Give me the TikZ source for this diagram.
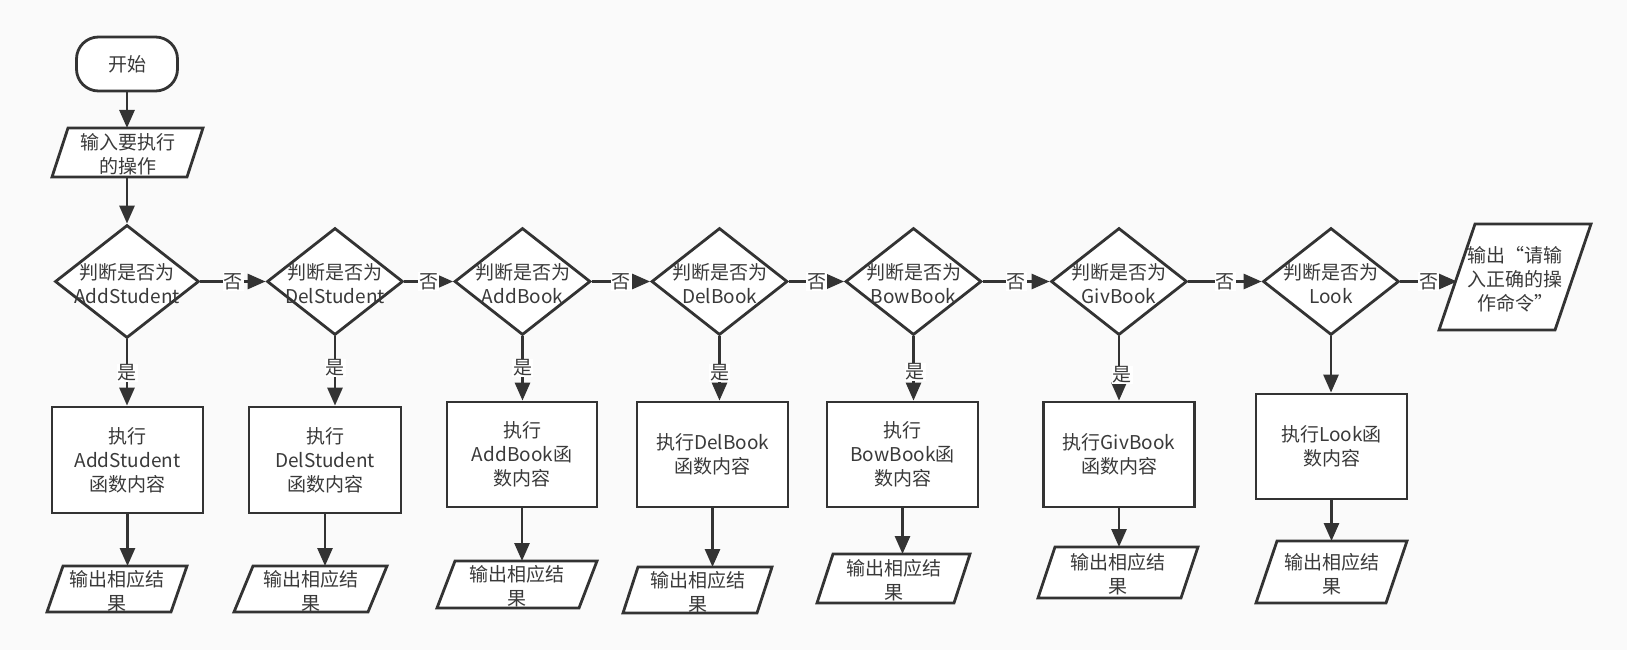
\documentclass[tikz,border=0pt]{standalone}
\usepackage{fontspec}
\setmainfont{Noto Sans CJK SC}
\usetikzlibrary{arrows.meta,shapes.geometric}
\definecolor{linec}{HTML}{333333}
\definecolor{txtc}{HTML}{3A3A3A}
\definecolor{bgc}{HTML}{FAFAFA}
% parallelogram: #1 name, #2 cx, #3 cy, #4 side, #5 skew, #6 height, #7 text
\newcommand\paragram[7]{%
  \draw[shp] ({#2-(#4+#5)/2},{#3+#6/2}) -- ++(#4,0) -- ({#2+(#4+#5)/2},{#3-#6/2}) -- ++(-#4,0) -- cycle;
  \coordinate (#1top) at (#2,{#3-#6/2});
  \coordinate (#1bot) at (#2,{#3+#6/2});
  \coordinate (#1left) at ({#2-#4/2},#3);
  \node[txt] (#1) at (#2,{#3+2}) {#7};
}
\begin{document}
\begin{tikzpicture}[x=1pt,y=-1pt,
  shp/.style={draw=linec, line width=2.8pt, fill=white},
  txt/.style={align=center, text=txtc, font=\fontsize{19pt}{24pt}\selectfont, inner sep=0pt},
  dia/.style={shp, shape=diamond, inner sep=0pt, minimum width=136pt, minimum height=107pt},
  proc/.style={shp, txt, minimum width=151pt, minimum height=105pt},
  arr/.style={draw=linec, line width=2.8pt, -{Triangle[length=18pt,width=15pt]}},
  lab/.style={fill=white, inner sep=1pt, text=txtc, font=\fontsize{19pt}{24pt}\selectfont}]
\fill[bgc] (0,0) rectangle (1627,650);
\useasboundingbox (0,0) rectangle (1627,650);

% start and input
\node[shp, txt, rounded corners=22pt, minimum width=101pt, minimum height=54pt] (start) at (127,64) {开始};
\paragram{inp}{127.5}{152.5}{135}{16}{49}{输入要执行\\的操作}

% diamonds
\node[dia, minimum width=144pt, minimum height=113pt] (d1) at (127,281.5) {};
\node[dia] (d2) at (335,281.5) {};
\node[dia] (d3) at (522.5,281.5) {};
\node[dia] (d4) at (719.5,281.5) {};
\node[dia] (d5) at (913.5,281.5) {};
\node[dia] (d6) at (1119,281.5) {};
\node[dia] (d7) at (1331,281.5) {};
\node[txt] (t1) at (127,284) {判断是否为\\AddStudent};
\node[txt] (t2) at (335,284) {判断是否为\\DelStudent};
\node[txt] (t3) at (522.5,284) {判断是否为\\AddBook};
\node[txt] (t4) at (719.5,284) {判断是否为\\DelBook};
\node[txt] (t5) at (913.5,284) {判断是否为\\BowBook};
\node[txt] (t6) at (1119,284) {判断是否为\\GivBook};
\node[txt] (t7) at (1331,284) {判断是否为\\Look};

% final output
\paragram{fo}{1515}{277}{116}{36}{106}{输出“请输\\入正确的操\\作命令”}

% process boxes
\node[proc, minimum height=106pt] (p1) at (127.5,460) {执行\\AddStudent\\函数内容};
\node[proc, minimum height=106pt, minimum width=152pt] (p2) at (325,460) {执行\\DelStudent\\函数内容};
\node[proc, minimum width=150pt] (p3) at (522,454.5) {执行\\AddBook函\\数内容};
\node[proc] (p4) at (712.5,454.5) {执行DelBook\\函数内容};
\node[proc] (p5) at (902.5,454.5) {执行\\BowBook函\\数内容};
\node[proc] (p6) at (1119,454.5) {执行GivBook\\函数内容};
\node[proc] (p7) at (1331.5,446.5) {执行Look函\\数内容};

% outputs
\paragram{oa}{117}{589}{124}{16}{46}{输出相应结\\果}
\paragram{ob}{310.5}{589}{134}{19}{46}{输出相应结\\果}
\paragram{oc}{517}{584.5}{142}{18}{47}{输出相应结\\果}
\paragram{od}{697.5}{590}{134}{15}{46}{输出相应结\\果}
\paragram{oe}{893.5}{578.5}{137}{16}{49}{输出相应结\\果}
\paragram{of}{1118}{572.5}{143}{17}{51}{输出相应结\\果}
\paragram{og}{1331.5}{572}{130}{21}{62}{输出相应结\\果}

% connectors
\draw[arr] (start.south) -- (start.south |- inptop);
\draw[arr] (d1.north |- inpbot) -- (d1.north);
\draw[arr] (d1.east) -- node[lab]{否} (d2.west);
\draw[arr] (d2.east) -- node[lab]{否} (d3.west);
\draw[arr] (d3.east) -- node[lab]{否} (d4.west);
\draw[arr] (d4.east) -- node[lab]{否} (d5.west);
\draw[arr] (d5.east) -- node[lab]{否} (d6.west);
\draw[arr] (d6.east) -- node[lab]{否} (d7.west);
\draw[arr] (d7.east) -- node[lab]{否} (d7.east -| foleft);

\draw[arr] (d1.south) -- (d1.south |- p1.north);
\draw[arr] (d2.south) -- (d2.south |- p2.north);
\draw[arr] (d3.south) -- (d3.south |- p3.north);
\draw[arr] (d4.south) -- (d4.south |- p4.north);
\draw[arr] (d5.south) -- (d5.south |- p5.north);
\draw[arr] (d6.south) -- (d6.south |- p6.north);
\draw[arr] (d7.south) -- (d7.south |- p7.north);
\node[lab] (y1) at (127,373) {是};
\node[lab] (y2) at (335,368) {是};
\node[lab] (y3) at (522.5,368) {是};
\node[lab] (y4) at (719.5,373) {是};
\node[lab] (y5) at (915,372) {是};
\node[lab] (y6) at (1122,375) {是};

\draw[arr] (p1.south) -- (p1.south |- oatop);
\draw[arr] (p2.south) -- (p2.south |- obtop);
\draw[arr] (p3.south) -- (p3.south |- octop);
\draw[arr] (p4.south) -- (p4.south |- odtop);
\draw[arr] (p5.south) -- (p5.south |- oetop);
\draw[arr] (p6.south) -- (p6.south |- oftop);
\draw[arr] (p7.south) -- (p7.south |- ogtop);
\end{tikzpicture}
\end{document}
